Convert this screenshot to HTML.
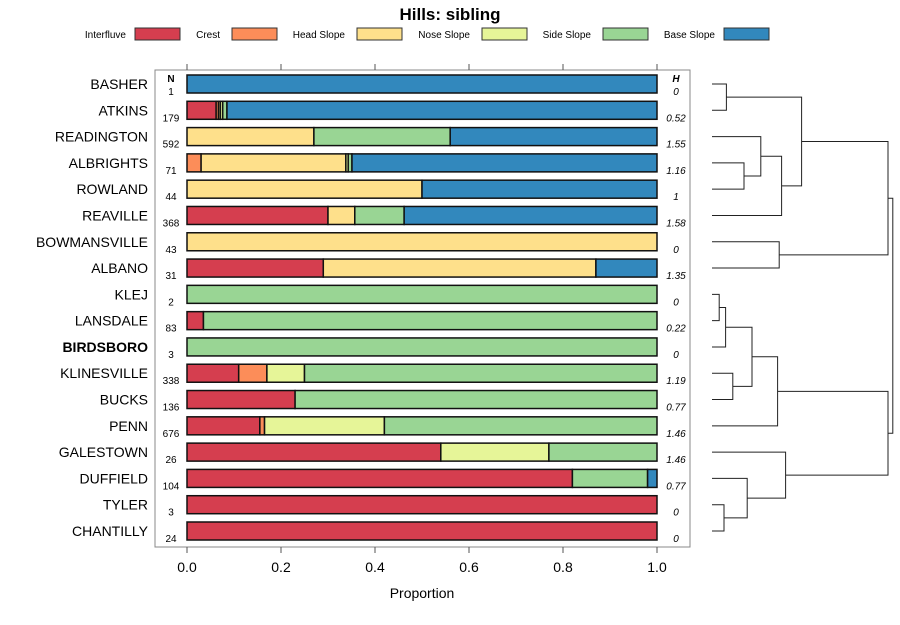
<!DOCTYPE html>
<html><head><meta charset="utf-8"><style>
body{margin:0;background:#fff;}
svg{font-family:"Liberation Sans",sans-serif;}
</style></head><body>
<svg id="c" width="900" height="620" xmlns="http://www.w3.org/2000/svg"></svg>
<script>
const series = ["Interfluve","Crest","Head Slope","Nose Slope","Side Slope","Base Slope"];
const colors = ["#D53E4F","#FC8D59","#FEE08B","#E6F598","#99D594","#3288BD"];
const categories = ["BASHER","ATKINS","READINGTON","ALBRIGHTS","ROWLAND","REAVILLE","BOWMANSVILLE","ALBANO","KLEJ","LANSDALE","BIRDSBORO","KLINESVILLE","BUCKS","PENN","GALESTOWN","DUFFIELD","TYLER","CHANTILLY"];
const nValues = [1,179,592,71,44,368,43,31,2,83,3,338,136,676,26,104,3,24];
const hValues = ["0","0.52","1.55","1.16","1","1.58","0","1.35","0","0.22","0","1.19","0.77","1.46","1.46","0.77","0","0"];
const interfluve = [0,0.062,0,0,0,0.30,0,0.29,0,0.035,0,0.11,0.23,0.155,0.54,0.82,1,1];
const crest      = [0,0.005,0,0.03,0,0,0,0,0,0,0,0.06,0,0.01,0,0,0,0];
const headSlope  = [0,0.004,0.27,0.308,0.5,0.057,1,0.58,0,0,0,0,0,0,0,0,0,0];
const noseSlope  = [0,0.005,0,0.005,0,0,0,0,0,0,0,0.08,0,0.255,0.23,0,0,0];
const sideSlope  = [0,0.009,0.29,0.008,0,0.105,0,0,1,0.965,1,0.75,0.77,0.58,0.23,0.16,0,0];
const baseSlope  = [1,0.915,0.44,0.649,0.5,0.538,0,0.13,0,0,0,0,0,0,0,0.02,0,0];
const xTicks = [0,0.2,0.4,0.6,0.8,1.0];
const xTickLabels = ["0.0","0.2","0.4","0.6","0.8","1.0"];
// dendrogram merges: [left, right, height]; leaves are indices 0..17, merges are 18+
const merges = [
 [0,1,0.9],[3,4,2.0],[2,19,3.05],[5,20,4.35],[18,21,5.6],[6,7,4.2],[22,23,11.0],
 [8,9,0.45],[10,25,0.85],[11,12,1.3],[26,27,2.5],[13,28,4.1],[16,17,0.75],[15,30,2.2],[14,31,4.6],[29,32,11.0],[24,33,11.3]
];
const segs = [interfluve,crest,headSlope,noseSlope,sideSlope,baseSlope];
const svg = document.getElementById('c');
const NS = "http://www.w3.org/2000/svg";
function mk(tag, attrs, parent){const e=document.createElementNS(NS,tag);for(const k in attrs)e.setAttribute(k,attrs[k]);(parent||svg).appendChild(e);return e;}
const X0=187,X1=657;
const xs = v => X0 + v*(X1-X0);
const ys = i => 84 + i*(531-84)/17;
const BH = 18;

let t=mk('text',{x:450,y:20,'text-anchor':'middle','font-size':17,'font-weight':'bold'});
t.textContent="Hills: sibling";



const legX=[[126,131],[220,228],[345,353],[470,478],[591,599],[715,720]];
series.forEach((s,i)=>{
  const g=mk('g',{});
  
  
  const tt=mk('text',{x:legX[i][0],y:38,'text-anchor':'end','font-size':10},g);
  tt.textContent=s;
  mk('rect',{x:legX[i][1]+4,y:28,width:45,height:12,fill:colors[i],stroke:'#333','stroke-width':1},g);
});

const panel=mk('rect',{x:155,y:70,width:535,height:477,fill:'none',stroke:'#888','stroke-width':1});



xTicks.forEach((v,i)=>{
  mk('line',{x1:xs(v),x2:xs(v),y1:547,y2:553,stroke:'#555'});
  mk('line',{x1:xs(v),x2:xs(v),y1:64,y2:70,stroke:'#555'});
  const l=mk('text',{x:xs(v),y:572,'text-anchor':'middle','font-size':14});
  l.textContent=xTickLabels[i];
  
  
});
let xt=mk('text',{x:422,y:598,'text-anchor':'middle','font-size':14});
xt.textContent="Proportion";



let nh=mk('text',{x:171,y:82,'text-anchor':'middle','font-size':10,'font-weight':'bold'});nh.textContent="N";


let hh=mk('text',{x:676,y:82,'text-anchor':'middle','font-size':10,'font-weight':'bold','font-style':'italic'});hh.textContent="H";



categories.forEach((c,i)=>{
  const y=ys(i);
  const lab=mk('text',{x:148,y:y+5,'text-anchor':'end','font-size':14,'font-weight':c==='BIRDSBORO'?'bold':'normal'});
  lab.textContent=c;
  
  
  const n=mk('text',{x:171,y:y+11,'text-anchor':'middle','font-size':10});
  n.textContent=nValues[i];
  
  
  const h=mk('text',{x:676,y:y+11,'text-anchor':'middle','font-size':10,'font-style':'italic'});
  h.textContent=hValues[i];
  
  
  let cum=0;
  segs.forEach((arr,j)=>{
    const v=arr[i];
    if(v>0){
      const r=mk('rect',{x:xs(cum),y:y-BH/2,width:xs(cum+v)-xs(cum),height:BH,fill:colors[j],stroke:'#111','stroke-width':1.5});
      
      
    }
    cum+=v;
  });
});

// dendrogram
const hx = h => 712 + h*(888-712)/11;
const nodeY=[],nodeH=[];
categories.forEach((c,i)=>{nodeY[i]=ys(i);nodeH[i]=0;});
const dg=mk('g',{});


merges.forEach((m,k)=>{
  const id=18+k,[a,b,h]=m;
  nodeY[id]=(nodeY[a]+nodeY[b])/2;nodeH[id]=h;
  const p=mk('path',{d:`M${hx(nodeH[a])},${nodeY[a]}H${hx(h)}V${nodeY[b]}H${hx(nodeH[b])}`,fill:'none',stroke:'#222','stroke-width':1},dg);
  
  
});
</script>
</body></html>
